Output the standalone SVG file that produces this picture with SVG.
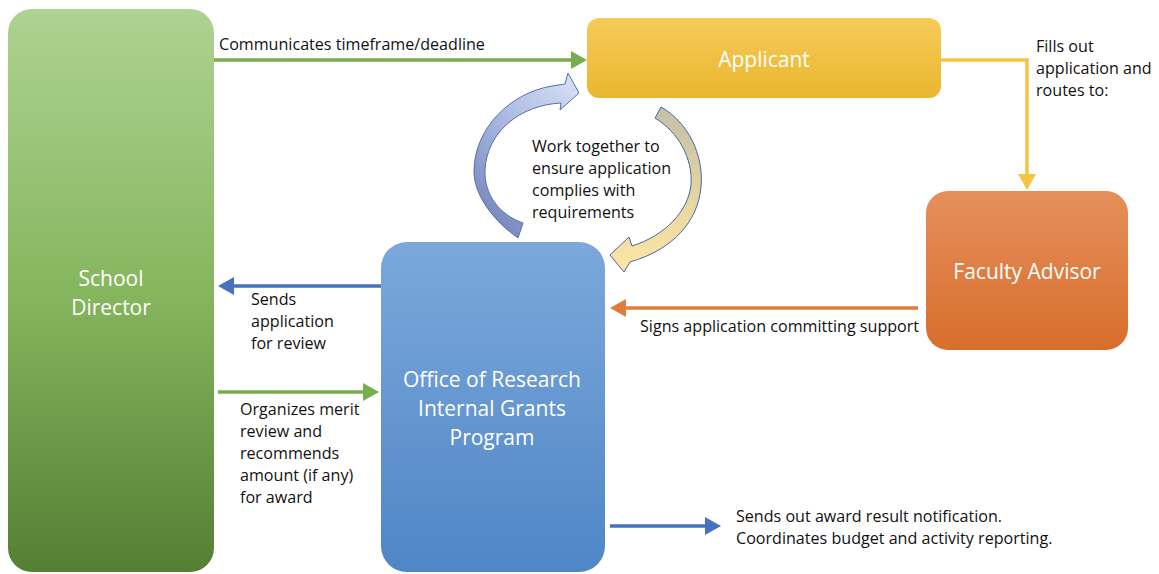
<svg xmlns="http://www.w3.org/2000/svg" width="1159" height="574" viewBox="0 0 1159 574">
  <style>
    .lbl { font-family: "Open Sans", "Liberation Sans", sans-serif; font-size: 16.1px; fill: #111; }
    .node-text { font-family: "Open Sans", "Liberation Sans", sans-serif; font-size: 21px; fill: #fff; text-anchor: middle; }
    .conn { fill: none; stroke-width: 3.5; }
  </style>
  <defs>
    <linearGradient id="gGreen" x1="0" y1="0" x2="0" y2="1">
      <stop offset="0" stop-color="#aed292"/>
      <stop offset="0.5" stop-color="#86b65e"/>
      <stop offset="1" stop-color="#557f34"/>
    </linearGradient>
    <linearGradient id="gYellow" x1="0" y1="0" x2="0" y2="1">
      <stop offset="0" stop-color="#f7cb5a"/>
      <stop offset="1" stop-color="#e9b62e"/>
    </linearGradient>
    <linearGradient id="gOrange" x1="0" y1="0" x2="0" y2="1">
      <stop offset="0" stop-color="#e58f5c"/>
      <stop offset="1" stop-color="#d86e2c"/>
    </linearGradient>
    <linearGradient id="gBlue" x1="0" y1="0" x2="0" y2="1">
      <stop offset="0" stop-color="#7ca8db"/>
      <stop offset="1" stop-color="#4f86c6"/>
    </linearGradient>
    <linearGradient id="gLoopL" x1="0.9" y1="0" x2="0.3" y2="1">
      <stop offset="0" stop-color="#d6e0f6"/>
      <stop offset="0.5" stop-color="#a8b6df"/>
      <stop offset="1" stop-color="#7687bd"/>
    </linearGradient>
    <linearGradient id="gLoopR" x1="0" y1="0" x2="0" y2="1">
      <stop offset="0" stop-color="#c3bfac"/>
      <stop offset="0.5" stop-color="#e2d3a0"/>
      <stop offset="1" stop-color="#fde7a4"/>
    </linearGradient>
    <marker id="mGreen" viewBox="0 0 16 18" refX="2" refY="9" markerWidth="16" markerHeight="18" markerUnits="userSpaceOnUse" orient="auto">
      <path d="M0,0 L16,9 L0,18 Z" fill="#77ad4f"/>
    </marker>
    <marker id="mYellow" viewBox="0 0 16 18" refX="2" refY="9" markerWidth="16" markerHeight="18" markerUnits="userSpaceOnUse" orient="auto">
      <path d="M0,0 L16,9 L0,18 Z" fill="#f6c344"/>
    </marker>
    <marker id="mOrange" viewBox="0 0 16 18" refX="2" refY="9" markerWidth="16" markerHeight="18" markerUnits="userSpaceOnUse" orient="auto">
      <path d="M0,0 L16,9 L0,18 Z" fill="#e17d3c"/>
    </marker>
    <marker id="mBlue" viewBox="0 0 16 18" refX="2" refY="9" markerWidth="16" markerHeight="18" markerUnits="userSpaceOnUse" orient="auto">
      <path d="M0,0 L16,9 L0,18 Z" fill="#4472c4"/>
    </marker>
  </defs>

  <rect width="1159" height="574" fill="#ffffff"/>

  <!-- nodes -->
  <g id="school-director">
    <rect x="8" y="9" width="206" height="563" rx="24" fill="url(#gGreen)"/>
    <text class="node-text" x="111" y="286">School</text>
    <text class="node-text" x="111" y="315">Director</text>
  </g>
  <g id="applicant">
    <rect x="587" y="18" width="354" height="80" rx="12" fill="url(#gYellow)"/>
    <text class="node-text" x="764" y="67">Applicant</text>
  </g>
  <g id="faculty-advisor">
    <rect x="926" y="191" width="202" height="159" rx="22" fill="url(#gOrange)"/>
    <text class="node-text" x="1027" y="279">Faculty Advisor</text>
  </g>
  <g id="office-of-research">
    <rect x="381" y="242" width="224" height="330" rx="26" fill="url(#gBlue)"/>
    <text class="node-text" x="492" y="387">Office of Research</text>
    <text class="node-text" x="492" y="416">Internal Grants</text>
    <text class="node-text" x="492" y="445">Program</text>
  </g>

  <!-- connectors -->
  <g id="connectors">
    <path class="conn" d="M214,60 H573" stroke="#77ad4f" marker-end="url(#mGreen)"/>
    <path class="conn" d="M941,60 H1027 V176" stroke="#f6c344" marker-end="url(#mYellow)"/>
    <path class="conn" d="M918,308 H624" stroke="#e17d3c" marker-end="url(#mOrange)"/>
    <path class="conn" d="M381,286 H232" stroke="#4472c4" marker-end="url(#mBlue)"/>
    <path class="conn" d="M218,392 H365" stroke="#77ad4f" marker-end="url(#mGreen)"/>
    <path class="conn" d="M610,526 H707" stroke="#4472c4" marker-end="url(#mBlue)"/>

    <!-- circular collaboration arrows -->
    <path d="M518,238 C495,222 473,195 474,170 C475,128 510,93 552,86 L565,84 L568,73 L579,93 L560,110 L561,103 C521,105 487,131 485,170 C484,195 500,215 523,223 Z" fill="url(#gLoopL)" stroke="#5670ad" stroke-width="1"/>
    <path d="M661,107 C688,122 704,155 701,187 C698,222 672,250 630,262 L624,272 L610,255 L629,237 L632,246 C664,236 688,212 691,185 C693,158 678,132 655,118 Z" fill="url(#gLoopR)" stroke="#4a66a8" stroke-width="1"/>
  </g>

  <!-- connector labels -->
  <g id="labels">
    <text class="lbl" x="219" y="50">Communicates timeframe/deadline</text>
    <text class="lbl" x="1036" y="52">Fills out</text>
    <text class="lbl" x="1036" y="74">application and</text>
    <text class="lbl" x="1036" y="96">routes to:</text>
    <text class="lbl" x="532" y="152">Work together to</text>
    <text class="lbl" x="532" y="174">ensure application</text>
    <text class="lbl" x="532" y="196">complies with</text>
    <text class="lbl" x="532" y="218">requirements</text>
    <text class="lbl" x="251" y="305">Sends</text>
    <text class="lbl" x="251" y="327">application</text>
    <text class="lbl" x="251" y="349">for review</text>
    <text class="lbl" x="640" y="332">Signs application committing support</text>
    <text class="lbl" x="240" y="415">Organizes merit</text>
    <text class="lbl" x="240" y="437">review and</text>
    <text class="lbl" x="240" y="459">recommends</text>
    <text class="lbl" x="240" y="481">amount (if any)</text>
    <text class="lbl" x="240" y="503">for award</text>
    <text class="lbl" x="736" y="522">Sends out award result notification.</text>
    <text class="lbl" x="736" y="544">Coordinates budget and activity reporting.</text>
  </g>
</svg>
